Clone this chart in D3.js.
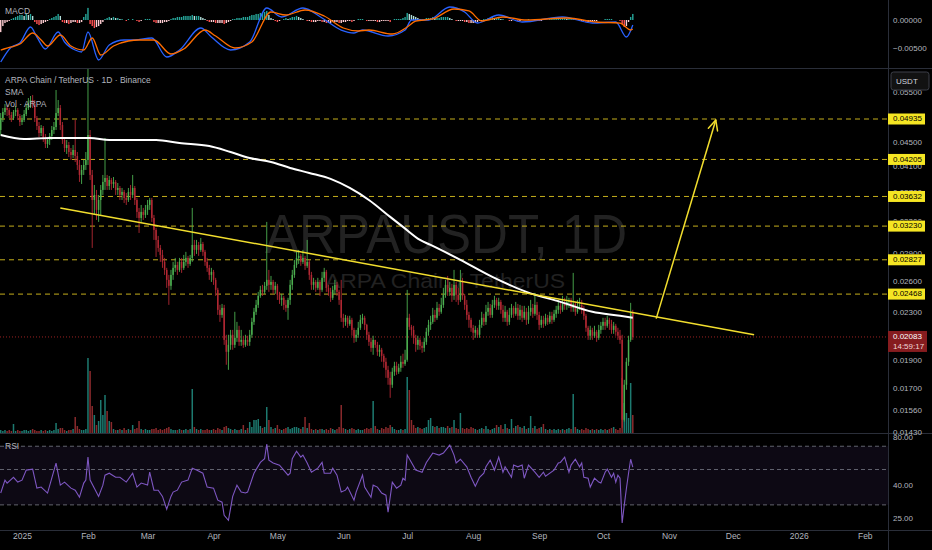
<!DOCTYPE html>
<html><head><meta charset="utf-8">
<script src="https://cdn.jsdelivr.net/npm/d3@7"></script>
<style>
html,body{margin:0;padding:0;background:#000;}
svg{display:block;}
text{font-family:"Liberation Sans",Arial,sans-serif;}
</style></head><body>
<svg id="chart" width="932" height="550"></svg>
<script>
// ---------------- DATA ----------------
// Daily candles from 2024-12-22 to 2025-10-15, prices in 1e-5 USDT
const startDate = "2024-12-22";
const PRICE_UNIT = 1e-5;
const firstOpen = 4725;
const closes = [4954,5074,5154,5114,5014,4954,5074,5114,4994,4877,4915,5034,5154,5257,5320,5237,4954,4800,4669,4762,
4578,4471,4542,4614,4725,4781,5053,5154,4819,4542,4400,4453,4331,4280,4366,4263,4114,3955,4034,4114,
4196,4632,3955,3582,3654,3444,3582,3727,3847,3908,3786,3877,3816,3847,3727,3756,3654,3698,3611,3582,
3698,3654,3756,3582,3417,3336,3417,3376,3444,3512,3582,3336,3182,3058,2963,2882,2804,2716,2611,2550,
2663,2738,2770,2716,2804,2738,2804,2848,2781,2848,2998,2940,2998,2940,3010,2917,2804,2738,2663,2695,
2611,2510,2319,2273,2337,2059,1964,2019,2101,2019,2076,2142,2043,2059,2019,2059,2043,2101,2211,2301,
2365,2451,2510,2490,2550,2611,2560,2590,2510,2550,2461,2412,2432,2365,2337,2412,2560,2663,2770,2848,
2871,2804,2848,2760,2804,2663,2560,2590,2530,2590,2510,2632,2695,2530,2490,2432,2510,2560,2490,2412,
2247,2211,2247,2194,2229,2142,2076,2101,2160,2229,2247,2185,2101,2043,1995,2059,2019,1964,1980,1933,
1888,1829,1772,1724,1815,1858,1815,1844,1888,1873,1903,2247,2168,2142,2076,2019,2059,2011,1995,2043,
2126,2185,2211,2273,2247,2337,2301,2365,2461,2560,2490,2530,2451,2560,2461,2412,2590,2451,2365,2273,
2229,2160,2118,2142,2101,2185,2247,2211,2301,2337,2273,2365,2412,2356,2393,2319,2247,2301,2211,2273,
2337,2283,2337,2265,2319,2247,2301,2229,2301,2337,2283,2365,2273,2185,2229,2194,2247,2211,2265,2229,
2283,2319,2356,2319,2374,2356,2393,2412,2337,2374,2301,2356,2365,2319,2265,2160,2093,2142,2093,2126,
2076,2142,2177,2211,2177,2229,2194,2142,2177,2126,2093,2059,1501,1724,1888,2059,2292,2083];
const highs = [5053,5154,5237,5216,5154,5074,5114,5195,5154,5034,5014,5114,5237,5362,5405,5426,5320,4994,4877,4819,
4800,4651,4578,4669,4800,4877,5535,5320,5216,4877,4578,4542,4506,4400,4453,4915,4331,4196,4114,4196,
4331,6038,4725,4034,3801,3727,3654,3801,3955,4578,3955,3939,3908,3923,3877,3831,3786,3756,3727,3683,
3756,3801,3955,3786,3611,3471,3512,3471,3512,3582,3611,3611,3376,3207,3107,2998,2940,2848,2738,2663,
2716,2804,2848,2804,2848,2848,2882,2917,2871,2882,3471,3058,3058,3034,3082,3034,2940,2848,2770,2738,
2716,2632,2530,2365,2374,2365,2101,2101,2142,2142,2301,2211,2177,2142,2093,2101,2093,2142,2247,2337,
2412,2490,2550,2560,2590,3284,2716,2652,2611,2590,2570,2490,2470,2451,2412,2432,2611,2716,2826,2917,
2940,2893,2940,2871,3058,2826,2695,2632,2611,2632,2611,2695,2738,2716,2560,2530,2550,2611,2590,2510,
2611,2283,2273,2265,2265,2247,2160,2142,2211,2273,2283,2265,2194,2126,2076,2093,2059,2043,2019,1995,
1949,1918,1858,1815,1844,1888,1888,1873,1933,1949,1980,2510,2283,2185,2177,2101,2093,2076,2043,2076,
2160,2229,2265,2337,2319,2393,2374,2432,2530,2611,2652,2590,2570,2716,2590,2530,2716,2632,2470,2412,
2301,2247,2185,2177,2160,2229,2301,2283,2365,2393,2374,2412,2451,2432,2432,2412,2365,2356,2319,2337,
2374,2356,2393,2374,2365,2356,2356,2337,2356,2412,2374,2480,2393,2301,2265,2265,2283,2273,2301,2301,
2319,2356,2412,2393,2451,2432,2451,2432,2432,2684,2393,2412,2432,2412,2356,2283,2177,2177,2160,2177,
2142,2185,2211,2247,2247,2265,2247,2229,2211,2194,2160,2142,2101,1758,1918,2093,2384,2319];
const lows = [4632,4877,5014,4994,4954,4877,4915,4994,4915,4800,4819,4877,4994,5114,5154,5154,4877,4725,4596,4614,
4506,4400,4400,4453,4542,4651,4725,4994,4725,4471,4331,4297,4246,4196,4230,4163,4034,3847,3816,3955,
4034,4114,3877,2963,3376,3310,3284,3376,3654,3727,3727,3727,3727,3756,3654,3654,3582,3582,3540,3512,
3554,3582,3611,3512,3336,3144,3284,3310,3336,3376,3444,3284,3058,2859,2917,2804,2738,2663,2530,2365,
2510,2611,2695,2663,2695,2684,2716,2760,2738,2760,2804,2871,2893,2871,2917,2871,2760,2695,2611,2590,
2560,2451,2273,2211,2247,2019,1866,1829,1980,1980,1995,2043,2011,2011,1995,2003,2011,2011,2076,2185,
2273,2337,2432,2451,2470,2510,2490,2510,2470,2470,2412,2374,2356,2319,2301,2229,2365,2510,2632,2738,
2781,2760,2781,2716,2738,2611,2510,2510,2490,2510,2451,2490,2590,2490,2451,2393,2412,2470,2451,2365,
2211,2160,2177,2160,2177,2093,2035,2043,2076,2142,2194,2142,2059,2011,1964,1941,1995,1933,1926,1888,
1844,1772,1724,1637,1703,1786,1793,1800,1815,1844,1858,1888,2142,2093,2027,1964,1980,1980,1956,1964,
2019,2093,2142,2194,2211,2229,2265,2283,2337,2432,2451,2451,2393,2412,2393,2365,2393,2412,2319,2229,
2160,2126,2059,2076,2076,2076,2160,2177,2185,2265,2247,2247,2337,2319,2319,2283,2211,2211,2177,2185,
2247,2247,2265,2229,2229,2211,2229,2185,2194,2265,2247,2265,2229,2142,2160,2160,2177,2185,2194,2194,
2211,2247,2283,2283,2301,2319,2319,2337,2301,2301,2265,2283,2319,2283,2229,2126,2059,2059,2059,2076,
2043,2059,2109,2142,2142,2160,2142,2109,2109,2093,2059,2027,1454,1490,1690,1858,2043,2059];
// Daily volume, million ARPA
const volumes = [15,10,15,10,15,10,45,10,15,10,10,15,15,10,15,20,15,10,10,15,
10,15,10,15,10,15,50,20,25,25,15,10,15,15,20,80,35,20,15,15,
20,375,310,135,90,40,60,165,90,190,110,60,55,20,15,15,20,15,25,15,
20,15,40,20,25,60,20,15,20,15,15,20,20,25,15,20,15,20,25,30,
20,15,15,15,20,15,15,20,15,20,220,30,20,15,20,15,15,20,15,15,
20,15,25,20,15,30,35,25,20,15,20,15,15,20,40,15,25,55,30,65,
65,70,35,25,30,130,65,30,20,25,40,20,15,20,25,30,20,25,30,30,
25,20,30,80,25,50,20,15,20,15,20,20,15,20,15,25,20,15,20,30,
140,25,20,15,20,25,20,15,20,15,15,20,25,20,25,160,35,20,15,25,
20,30,25,40,30,20,15,15,20,15,20,280,215,65,40,25,30,25,20,25,
30,65,75,35,30,35,25,30,30,25,35,25,30,65,25,20,100,25,20,25,
20,30,25,20,15,20,25,20,35,20,15,20,25,40,30,40,20,45,25,20,
70,25,35,40,30,25,35,20,25,85,25,35,20,25,30,45,20,15,20,15,
20,15,20,15,20,15,20,25,20,195,30,20,15,20,15,25,20,15,20,15,
20,15,20,15,20,15,20,25,30,20,15,25,275,150,100,75,250,90];
// SMA (sampled along the drawn curve): day offset, price in 1e-5 USDT
const smaDays = [0,11,23,42,51,73,84,98,108,117,127,136,145,155,164,173,183,189,197,202,216,231,247,263,278,291,297];
const smaValues = [4632,4560,4578,4578,4542,4542,4488,4435,4331,4230,4163,4066,3986,3893,3756,3582,3350,3220,3058,2998,2826,2642,2490,2393,2301,2265,2247];
// MACD, values in 1e-5
const MACD_UNIT = 1e-5;
const macdDays = [0,5,9,14,17,21,27,30,35,38,41,46,51,58,63,71,78,84,94,99,108,117,125,132,142,151,160,166,170,182,190,193,201,211,218,224,234,245,264,278,289,294,297];
const macdValues = [-750,-482,-411,-125,-304,-518,-214,-393,-536,-571,-214,-714,-446,-357,-357,-321,-661,-536,-143,-304,-536,-393,214,54,214,36,-179,-232,-179,-286,-179,0,0,232,143,-54,89,-36,54,-54,-36,-304,-89];
const signalDays = [0,5,9,15,19,22,28,33,39,43,47,53,60,65,72,80,86,96,101,110,118,127,134,143,152,161,168,173,184,191,195,203,213,220,226,236,247,266,280,291,296,297];
const signalValues = [-536,-482,-429,-232,-357,-464,-268,-464,-536,-321,-625,-464,-375,-357,-357,-607,-518,-179,-286,-500,-393,143,89,179,71,-143,-196,-179,-250,-125,-18,18,196,161,-18,54,0,36,-36,-54,-179,-161];
const macdHist = [-216,-108,-54,-36,-18,18,36,54,72,90, 90,72,108,90,108,72,-36,-72,-90,-72,
-54,-36,-18,18,36,54,72,108,72,-36, -54,-54,-72,-54,-36,-36,-54,-54,-36,54,
108,216,-72,-108,-144,-126,-108,-72,-36,18, 36,54,36,54,36,36,18,18,0,-18,
18,0,18,0,-18,-36,-18,0,18,18, 18,0,-36,-54,-54,-54,-54,-36,-36,-18,
18,36,36,54,54,54,72,72,72,72, 90,72,72,72,54,36,18,-18,-36,-36,
-36,-54,-54,-54,-54,-72,-54,-36,-18,18, 18,36,36,36,54,54,54,72,90,90,
108,108,126,126,144,162,90,36,18,-18, -36,-18,0,18,36,18,36,54,54,72,
54,36,18,0,-18,-18,-36,-36,-36,-18, -18,-36,-36,-54,-54,-54,-36,-36,-36,-54,
-54,-36,-36,-18,-18,-36,-18,0,18,18, 18,0,-18,-18,-18,-18,-18,-36,-36,-18,
-18,-18,-18,-36,0,18,18,18,18,36, 54,126,108,90,72,54,36,18,18,18,
36,36,36,54,36,36,36,54,54,54, 54,36,18,0,-18,-18,-18,-18,-36,-36,
-54,-54,-54,-54,-36,-18,-18,18,18,36, 36,54,36,36,36,18,18,0,0,-18,
-18,0,0,-18,-18,0,0,0,18,0, 0,18,0,-18,-18,0,0,0,18,18,
18,18,18,18,36,36,18,18,18,18, 0,0,-18,-18,-18,-36,-36,-36,-18,-18,
-18,0,0,0,18,18,18,18,0,0, 0,-18,-72,-126,-108,-36,54,108];
// RSI (vertices): day offset, value
const rsiDays = [0,2,3,6,8,10,12,15,17,19,22,24,26,28,30,33,35,37,39,40,41,42,44,46,48,49,51,54,56,59,62,64,66,69,70,72,74,76,78,80,
81,83,85,88,90,92,95,97,100,102,104,105,107,109,111,113,115,116,119,122,124,125,126,128,131,135,136,137,139,141,
142,144,146,149,151,152,155,156,158,160,162,163,166,167,170,171,174,175,177,179,181,182,184,186,188,189,190,191,193,195,
198,200,203,206,208,211,213,214,216,219,221,223,225,227,228,230,232,234,236,237,240,241,243,245,246,248,251,253,255,256,
260,262,263,265,267,268,270,272,273,274,276,277,279,281,282,284,285,287,288,289,290,291,292,293,294,295,296,297];
const rsiValues = [35.6,42.9,41.1,44.7,41.7,42.9,49.6,50.3,38.2,38.8,35.6,44.1,54.9,39.9,41.7,38.2,37.1,33.5,41.1,42.9,
59.8,42.9,38.2,33.9,39.9,46.1,47.4,44.7,44.7,41.7,47.4,38.8,41.1,39.9,48.1,37.1,37.1,33.9,28.2,33.9,
36.1,37.1,41.7,42.9,51.0,49.6,47.4,38.8,38.2,32.1,31.2,25.8,24.0,33.9,39.9,36.1,35.6,36.1,47.4,55.4,
58.5,72.3,57.3,55.0,53.3,46.1,47.4,58.5,65.1,59.8,61.6,55.0,48.1,51.0,55.4,47.4,47.4,51.0,46.1,36.1,
37.1,38.8,32.1,36.1,46.1,38.8,33.5,39.9,38.8,35.6,34.5,27.0,41.7,38.2,39.9,44.1,42.9,61.6,55.4,49.6,
48.1,55.4,63.4,61.6,63.4,71.2,61.6,55.0,58.0,52.0,44.7,39.3,44.7,47.4,52.0,57.3,49.6,59.8,48.1,52.0,
44.7,53.3,52.0,53.3,44.1,53.3,48.1,44.7,48.1,45.4,49.6,55.0,55.4,59.8,48.1,53.3,58.0,52.0,55.0,44.7,
44.1,38.8,44.1,41.7,41.1,48.1,50.3,44.7,47.4,41.7,46.1,44.1,23.1,30.0,38.0,47.4,58.0,51.7];
// Horizontal levels and drawings
const levels = [0.04935,0.04205,0.03632,0.03230,0.02827,0.02468];
const trendline = [{date:"2025-01-19",price:0.03471},{date:"2025-12-11",price:0.02101}];
const arrow = [{date:"2025-10-26",price:0.02240},{date:"2025-11-23",price:0.04915}];
const lastPrice = 0.02083, countdown = "14:59:17";
// Axis tick labels (some are partly covered by the level labels, as in the reference)
const priceTicks = [0.055,0.045,0.041,0.037,0.033,0.029,0.026,0.023,0.019,0.017,0.0156,0.0143];
const macdTicks = [0,-0.005];
const rsiTicks = [80,40,25];
const rsiBands = [70,50,30];
const timeTicks = ["2025-01-01","2025-02-01","2025-03-01","2025-04-01","2025-05-01","2025-06-01","2025-07-01","2025-08-01","2025-09-01","2025-10-01","2025-11-01","2025-12-01","2026-01-01","2026-02-01"];

// ---------------- CHART ----------------
const PR = 888;                    // plot right edge
const svg = d3.select("#chart");
const parse = d3.utcParse("%Y-%m-%d");
const t0 = parse(startDate).getTime();
const dateOf = d => new Date(t0 + d * 864e5);

const x = d3.scaleUtc().domain([parse("2025-01-01"), parse("2025-10-01")]).range([22, 603]);
const yP = d3.scaleLog().domain([0.0143, 0.04935]).range([432, 119]);
const yV = d3.scaleLinear().domain([0, 375]).range([433, 358]);
const yM = d3.scaleLinear().domain([-0.005, 0]).range([48, 20]);
const yR = d3.scaleLog().domain([25, 80]).range([517.5, 437]);

svg.append("rect").attr("width", 932).attr("height", 550).attr("fill", "#000");

const defs = svg.append("defs");
function clip(id, y0, y1) {
  defs.append("clipPath").attr("id", id).append("rect")
    .attr("x", 0).attr("y", y0).attr("width", PR).attr("height", y1 - y0);
}
clip("cM", 0, 68); clip("cP", 69, 433); clip("cR", 434, 530);

const candles = closes.map((c, i) => ({
  date: dateOf(i),
  o: (i ? closes[i - 1] : firstOpen) * PRICE_UNIT,
  h: highs[i] * PRICE_UNIT, l: lows[i] * PRICE_UNIT, c: c * PRICE_UNIT,
  v: volumes[i], hist: macdHist[i] * MACD_UNIT
}));

// ---- watermark ----
const wm = svg.append("g").attr("clip-path", "url(#cP)");
wm.append("text").attr("x", 446).attr("y", 253).attr("text-anchor", "middle")
  .attr("font-size", 56).attr("textLength", 362).attr("lengthAdjust", "spacingAndGlyphs")
  .attr("fill", "#222222").text("ARPAUSDT, 1D");
wm.append("text").attr("x", 445).attr("y", 288).attr("text-anchor", "middle")
  .attr("font-size", 21).attr("textLength", 240).attr("lengthAdjust", "spacingAndGlyphs")
  .attr("fill", "#222222").text("ARPA Chain / TetherUS");

// ---- price pane ----
const pp = svg.append("g").attr("clip-path", "url(#cP)");
pp.selectAll("line.lvl").data(levels).join("line").attr("class", "lvl")
  .attr("x1", 0).attr("x2", PR).attr("y1", d => yP(d)).attr("y2", d => yP(d))
  .attr("stroke", "#c4ae1c").attr("stroke-width", 1).attr("stroke-dasharray", "5,4");
pp.append("line").attr("x1", 0).attr("x2", PR).attr("y1", yP(lastPrice)).attr("y2", yP(lastPrice))
  .attr("stroke", "#9a2222").attr("stroke-width", 1).attr("stroke-dasharray", "1,2");
pp.selectAll("rect.vol").data(candles).join("rect").attr("class", "vol")
  .attr("x", d => x(d.date) - 0.75).attr("width", 1.5)
  .attr("y", d => yV(d.v)).attr("height", d => yV(0) - yV(d.v))
  .attr("fill", d => d.c >= d.o ? "#1d7a70" : "#8a2a2c");
const cg = pp.selectAll("g.c").data(candles).join("g").attr("class", "c");
cg.append("line")
  .attr("x1", d => x(d.date)).attr("x2", d => x(d.date))
  .attr("y1", d => yP(Math.max(d.h, d.o, d.c))).attr("y2", d => yP(Math.min(d.l, d.o, d.c)))
  .attr("stroke", d => d.c >= d.o ? "#4caf50" : "#b22833").attr("stroke-width", 0.9);
cg.append("rect")
  .attr("x", d => x(d.date) - 0.75).attr("width", 1.5)
  .attr("y", d => yP(Math.max(d.o, d.c)))
  .attr("height", d => Math.max(0.8, yP(Math.min(d.o, d.c)) - yP(Math.max(d.o, d.c))))
  .attr("fill", d => d.c >= d.o ? "#4caf50" : "#b22833");
const sma = d3.zip(smaDays, smaValues);
pp.append("path").datum(sma)
  .attr("d", d3.line().x(d => x(dateOf(d[0]))).y(d => yP(d[1] * PRICE_UNIT)).curve(d3.curveMonotoneX))
  .attr("fill", "none").attr("stroke", "#ffffff").attr("stroke-width", 2);
const pt = d => [x(parse(d.date)), yP(d.price)];
pp.append("line")
  .attr("x1", pt(trendline[0])[0]).attr("y1", pt(trendline[0])[1])
  .attr("x2", pt(trendline[1])[0]).attr("y2", pt(trendline[1])[1])
  .attr("stroke", "#f2de2e").attr("stroke-width", 1.5);
const a0 = pt(arrow[0]), a1 = pt(arrow[1]);
pp.append("line").attr("x1", a0[0]).attr("y1", a0[1]).attr("x2", a1[0]).attr("y2", a1[1])
  .attr("stroke", "#f2de2e").attr("stroke-width", 1.5);
const ang = Math.atan2(a1[1] - a0[1], a1[0] - a0[0]);
[0.45, -0.45].forEach(s => {
  pp.append("line").attr("x1", a1[0]).attr("y1", a1[1])
    .attr("x2", a1[0] - 11 * Math.cos(ang + s)).attr("y2", a1[1] - 11 * Math.sin(ang + s))
    .attr("stroke", "#f2de2e").attr("stroke-width", 1.5).attr("stroke-linecap", "round");
});

// ---- MACD pane ----
const mp = svg.append("g").attr("clip-path", "url(#cM)");
mp.selectAll("rect.h").data(candles).join("rect").attr("class", "h")
  .attr("x", d => x(d.date) - 0.7).attr("width", 1.4)
  .attr("y", d => Math.min(yM(0), yM(d.hist))).attr("height", d => Math.abs(yM(d.hist) - yM(0)))
  .attr("fill", (d, i) => {
    const p = i ? candles[i - 1].hist : d.hist;
    if (d.hist >= 0) return d.hist >= p ? "#26a69a" : "#b2dfdb";
    return d.hist < p ? "#ff5252" : "#ffcdd2";
  });
const mline = d3.line().x(d => x(dateOf(d[0]))).y(d => yM(d[1] * MACD_UNIT)).curve(d3.curveMonotoneX);
mp.append("path").datum(d3.zip(macdDays, macdValues)).attr("d", mline)
  .attr("fill", "none").attr("stroke", "#2962ff").attr("stroke-width", 1.3);
mp.append("path").datum(d3.zip(signalDays, signalValues)).attr("d", mline)
  .attr("fill", "none").attr("stroke", "#ff6d00").attr("stroke-width", 1.3);

// ---- RSI pane ----
const rp = svg.append("g").attr("clip-path", "url(#cR)");
rp.append("rect").attr("x", 0).attr("width", PR).attr("y", yR(70)).attr("height", yR(30) - yR(70))
  .attr("fill", "rgba(126,87,194,0.1)");
rp.selectAll("line.b").data(rsiBands).join("line").attr("class", "b")
  .attr("x1", 0).attr("x2", PR).attr("y1", d => yR(d)).attr("y2", d => yR(d))
  .attr("stroke", "#787b86").attr("stroke-opacity", 0.8).attr("stroke-dasharray", "4,3");
rp.append("path").datum(d3.zip(rsiDays, rsiValues))
  .attr("d", d3.line().x(d => x(dateOf(d[0]))).y(d => yR(d[1])))
  .attr("fill", "none").attr("stroke", "#7e57c2").attr("stroke-width", 1.1);

// ---- separators ----
const sep = "#2a2e39";
[68.5, 433.5, 530.5].forEach(y => svg.append("line").attr("x1", 0).attr("x2", 932)
  .attr("y1", y).attr("y2", y).attr("stroke", sep));
svg.append("line").attr("x1", PR + 0.5).attr("x2", PR + 0.5).attr("y1", 0).attr("y2", 550).attr("stroke", sep);

// ---- legends ----
const lg = (t, y) => svg.append("text").attr("x", 5).attr("y", y).attr("font-size", 8.5)
  .attr("fill", "#b2b5be").attr("dominant-baseline", "middle").text(t);
lg("MACD", 12); lg("ARPA Chain / TetherUS · 1D · Binance", 81); lg("SMA", 93); lg("Vol · ARPA", 105); lg("RSI", 447);

// ---- right axes ----
// price-scale label boxes (levels, last price, currency) and their vertical extents
const ly = yP(lastPrice);
const boxes = levels.map(v => [yP(v) - 5.5, yP(v) + 5.5]).concat([[ly - 6, ly + 15], [72, 90]])
  .sort((a, b) => a[0] - b[0]);
// clip so tick labels only show outside the boxes (partly hidden, like the reference)
const axClip = defs.append("clipPath").attr("id", "cAx");
let yc = 69;
boxes.forEach(b => {
  if (b[0] > yc) axClip.append("rect").attr("x", PR).attr("y", yc).attr("width", 44).attr("height", b[0] - yc);
  yc = Math.max(yc, b[1]);
});
axClip.append("rect").attr("x", PR).attr("y", yc).attr("width", 44).attr("height", 440 - yc);

function rAxis(scale, ticks, fmt, clipId) {
  const g = svg.append("g").attr("transform", `translate(${PR},0)`)
    .call(d3.axisRight(scale).tickValues(ticks).tickFormat(fmt).tickSize(0).tickPadding(5));
  g.select(".domain").remove();
  g.selectAll("text").attr("font-size", 8).attr("fill", "#b2b5be")
    .attr("font-family", '"Liberation Sans",Arial,sans-serif');
  if (clipId) {
    const wrap = svg.append("g").attr("clip-path", `url(#${clipId})`);
    wrap.node().appendChild(g.node());
  }
  return g;
}
rAxis(yM, macdTicks, d3.format(".5f"));
rAxis(yP, priceTicks, d3.format(".5f"), "cAx");
rAxis(yR, rsiTicks, d3.format(".2f"));

const ll = svg.append("g");
levels.forEach(v => {
  ll.append("rect").attr("x", PR).attr("y", yP(v) - 5.5).attr("width", 37).attr("height", 11).attr("fill", "#f5e523");
  ll.append("text").attr("x", PR + 5).attr("y", yP(v)).attr("dominant-baseline", "middle")
    .attr("font-size", 8).attr("fill", "#000").text(d3.format(".5f")(v));
});
ll.append("rect").attr("x", PR).attr("y", ly - 6).attr("width", 39).attr("height", 21).attr("fill", "#861c1f");
ll.append("text").attr("x", PR + 5).attr("y", ly).attr("dominant-baseline", "middle")
  .attr("font-size", 8).attr("fill", "#ffffff").text(d3.format(".5f")(lastPrice));
ll.append("text").attr("x", PR + 5).attr("y", ly + 9.5).attr("dominant-baseline", "middle")
  .attr("font-size", 8).attr("fill", "#f0d8d8").text(countdown);
ll.append("rect").attr("x", 891).attr("y", 72).attr("width", 38).attr("height", 18).attr("rx", 2.5)
  .attr("fill", "#121212").attr("stroke", "#3c3f48");
ll.append("text").attr("x", 896).attr("y", 81.5).attr("dominant-baseline", "middle")
  .attr("font-size", 8).attr("fill", "#d1d4dc").text("USDT");

// ---- time axis ----
const tg = svg.append("g").attr("transform", "translate(0,533)")
  .call(d3.axisBottom(x).tickValues(timeTicks.map(parse)).tickSize(0).tickPadding(0)
    .tickFormat(d => d.getUTCMonth() === 0 ? d3.utcFormat("%Y")(d) : d3.utcFormat("%b")(d)));
tg.select(".domain").remove();
tg.selectAll("text").attr("font-size", 8.5).attr("fill", "#b2b5be")
  .attr("font-family", '"Liberation Sans",Arial,sans-serif');
</script>
</body></html>
